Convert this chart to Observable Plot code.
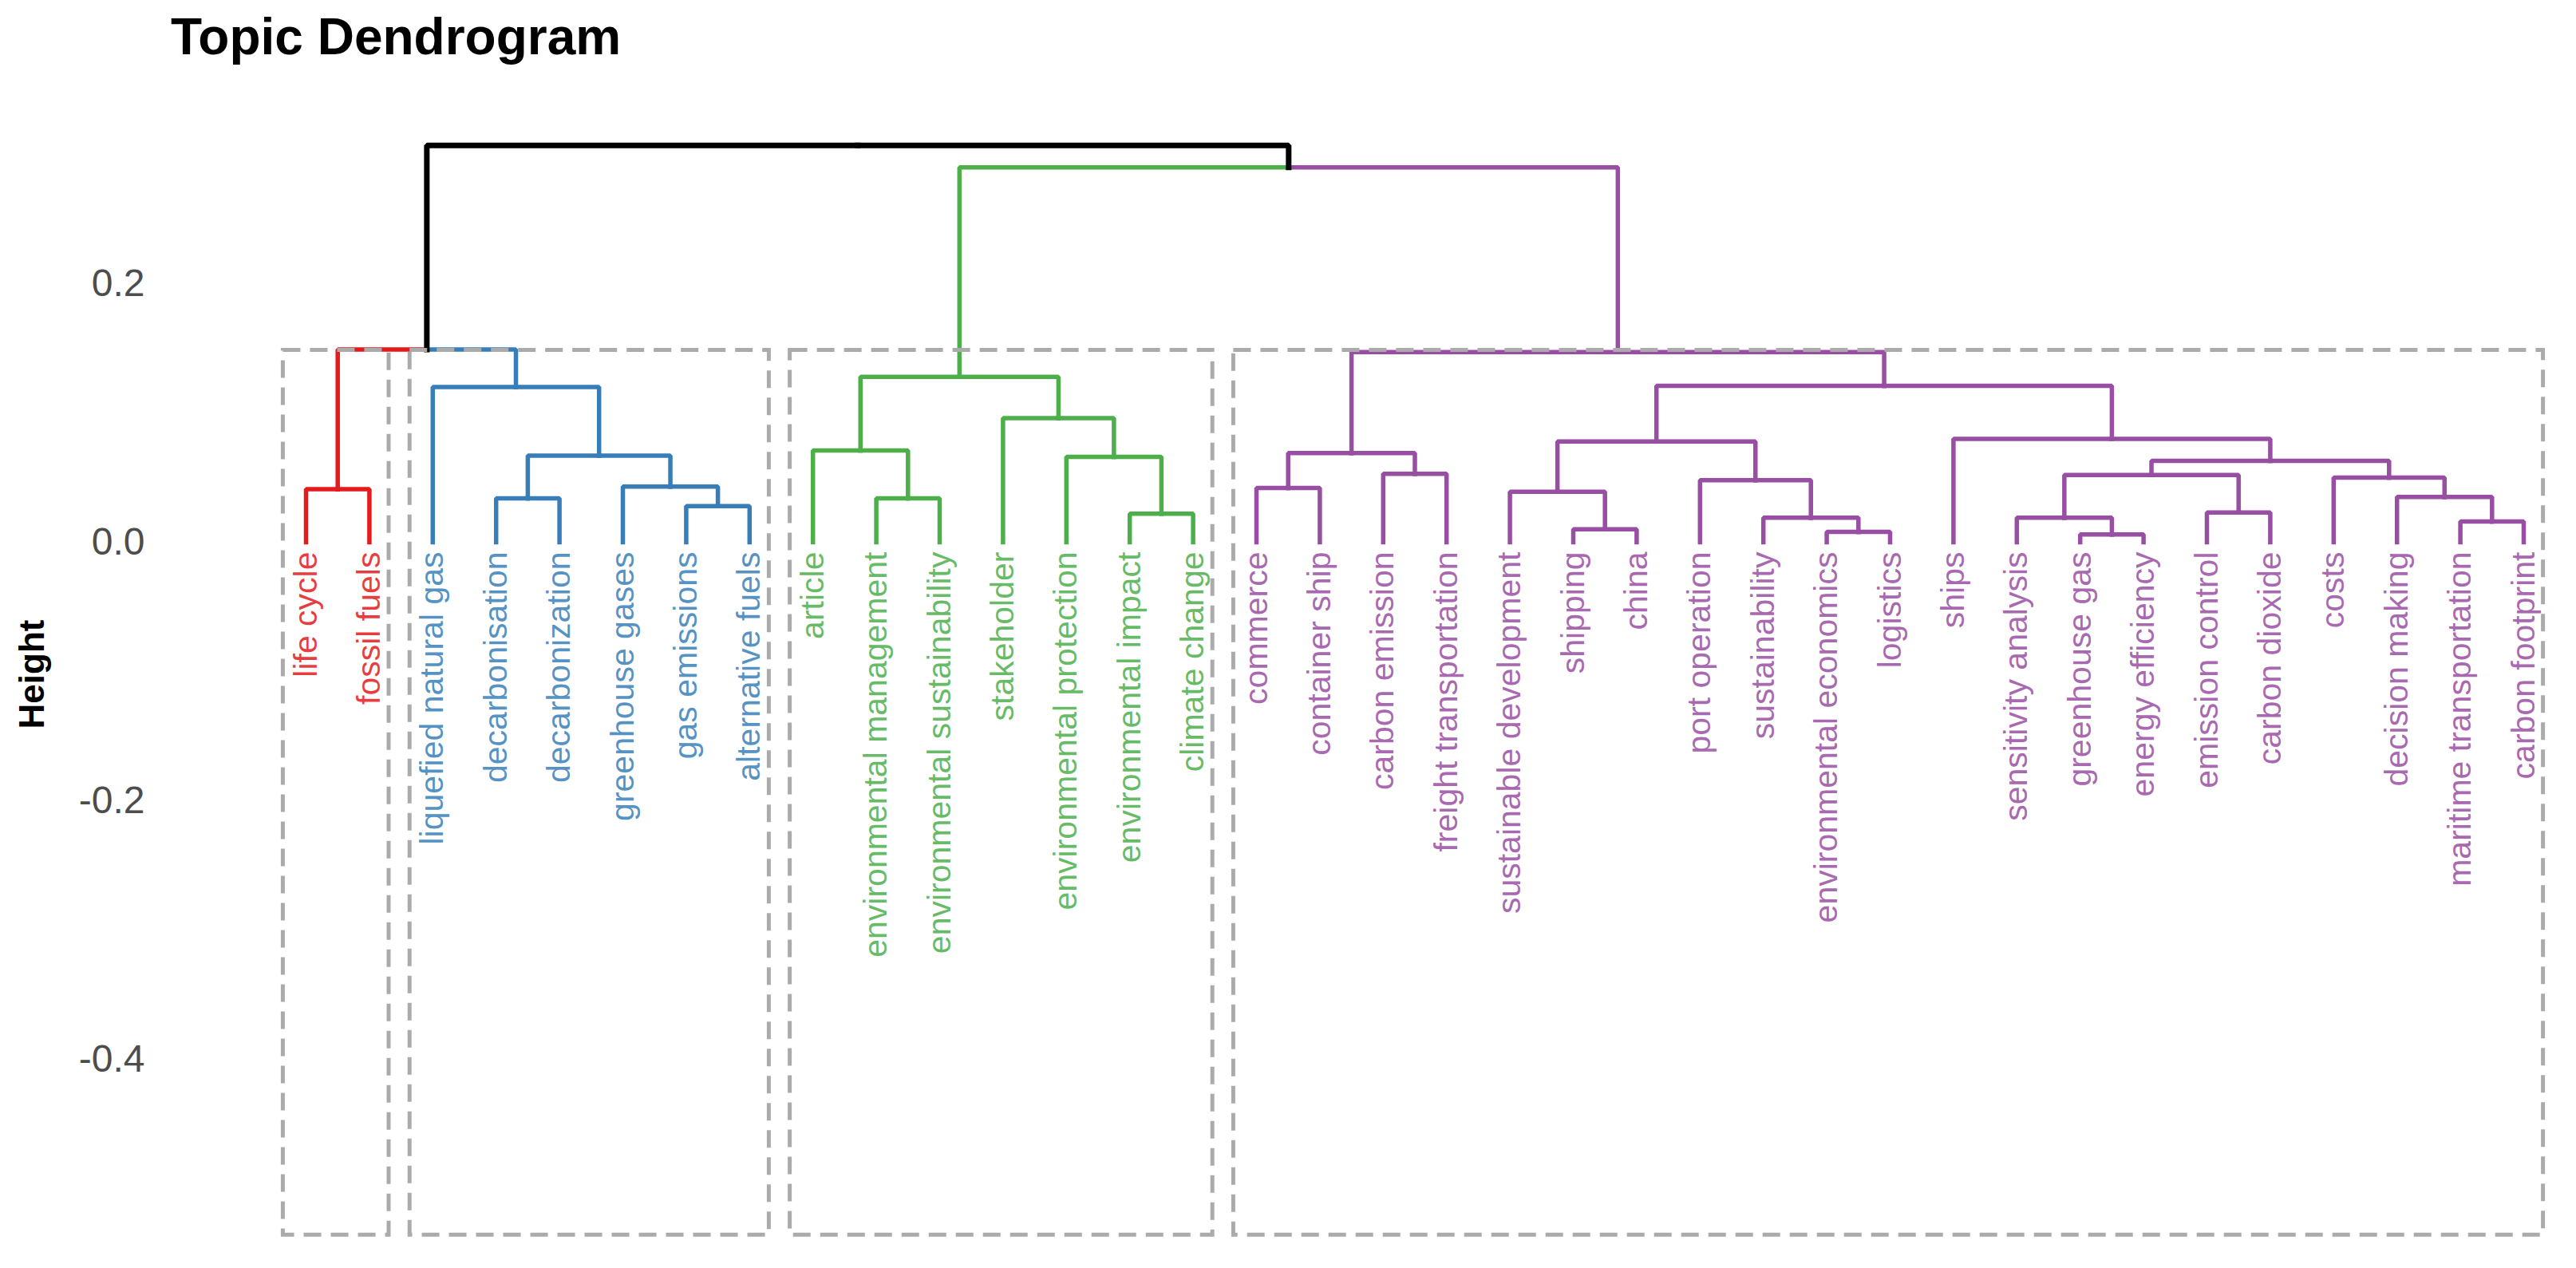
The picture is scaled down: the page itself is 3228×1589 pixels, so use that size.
<!DOCTYPE html>
<html>
<head>
<meta charset="utf-8">
<script src="https://cdn.jsdelivr.net/npm/d3@7"></script>
<script src="https://cdn.jsdelivr.net/npm/@observablehq/plot@0.6"></script>
<style>
  html, body { margin: 0; padding: 0; background: #ffffff; }
  #title {
    height: 100px; box-sizing: border-box;
    padding: 16px 0 0 214px;
    font: bold 64px/60px "Liberation Sans", Arial, sans-serif;
    color: #000;
  }
  #chart svg [aria-label="y-axis label"] { font-weight: bold; fill: #000; font-size: 44px; }
</style>
</head>
<body>
<div id="title">Topic Dendrogram</div>
<div id="chart"></div>
<script>
// ---- data ----
const leafLabels = [
  "life cycle", "fossil fuels",
  "liquefied natural gas", "decarbonisation", "decarbonization", "greenhouse gases", "gas emissions", "alternative fuels",
  "article", "environmental management", "environmental sustainability", "stakeholder", "environmental protection", "environmental impact", "climate change",
  "commerce", "container ship", "carbon emission", "freight transportation", "sustainable development", "shipping", "china",
  "port operation", "sustainability", "environmental economics", "logistics", "ships", "sensitivity analysis", "greenhouse gas",
  "energy efficiency", "emission control", "carbon dioxide", "costs", "decision making", "maritime transportation", "carbon footprint"
];
const clusterSizes = [2, 6, 7, 21];
const clusterColors = ["#E41A1C", "#377EB8", "#4DAF4A", "#984EA3"];
// hclust-style merges: negative = leaf (1-based), positive = earlier merge (1-based)
const mergeLeft  = [-1, -7, -6, -4, 4, -3, 1, -10, -9, -14, -13, -12, 9, -16, -18, 14, -21, -20, -25, -24, -23, 18, -29, -28, -31, 24, -35, -34, -33, 26, -27, 22, 16, 13, 7];
const mergeRight = [-2, -8, 2, -5, 3, 5, 6, -11, 8, -15, 10, 11, 12, -17, -19, 15, -22, 17, -26, 19, 20, 21, -30, 23, -32, 25, -36, 27, 28, 29, 30, 31, 32, 33, 34];
const mergeHeight = [0.041, 0.028, 0.043, 0.034, 0.067, 0.120, 0.149, 0.034, 0.071, 0.022, 0.066, 0.096, 0.128, 0.042, 0.053, 0.069, 0.010, 0.039, 0.008, 0.019, 0.048, 0.078, 0.006, 0.019, 0.023, 0.052, 0.016, 0.035, 0.050, 0.063, 0.080, 0.121, 0.147, 0.290, 0.307];
const cutHeight = 0.1485;
const rectBottom = -0.536;
const yTicks = [0.2, 0.0, -0.2, -0.4];

// ---- build tree geometry ----
const leafCluster = [];
clusterSizes.forEach((n, c) => { for (let i = 0; i < n; i++) leafCluster.push(c); });
const leaves = leafLabels.map((label, i) => ({label, x: i + 1, h: 0, color: clusterColors[leafCluster[i]]}));
const nodes = [];
const getNode = r => r < 0 ? leaves[-r - 1] : nodes[r - 1];
mergeLeft.forEach((l, i) => {
  const a = getNode(l), b = getNode(mergeRight[i]);
  nodes.push({x: (a.x + b.x) / 2, h: mergeHeight[i], color: a.color === b.color ? a.color : "#000000", kids: [a, b]});
});
const paths = [];
let pid = 0;
nodes.forEach(n => n.kids.forEach(k => {
  pid++;
  const w = k.color === "#000000" ? 7 : 5.5;
  paths.push({id: pid, x: n.x, h: n.h, color: k.color, w});
  paths.push({id: pid, x: k.x, h: n.h, color: k.color, w});
  paths.push({id: pid, x: k.x, h: k.h, color: k.color, w});
}));
const boxes = [];
let start = 1;
clusterSizes.forEach((n, c) => { boxes.push({a: start, b: start + n - 1}); start += n; });

const chart = Plot.plot({
  width: 3228,
  height: 1489,
  marginLeft: 185, marginRight: 0, marginTop: 0, marginBottom: 0,
  style: {fontFamily: "'Liberation Sans', Arial, sans-serif", background: "#ffffff"},
  x: {domain: [1, 36], range: [383, 3162], axis: null},
  y: {domain: [-0.514, 0.33], range: [1411.7, 44.4]},
  marks: [
    Plot.axisY({
      ticks: yTicks, tickFormat: d => d.toFixed(1), tickSize: 0, tickPadding: 4,
      fontSize: 48, color: "#4d4d4d",
      label: "Height", labelAnchor: "center", labelArrow: "none", labelOffset: 162
    }),
    Plot.line(paths.filter(p => p.w < 6), {x: "x", y: "h", z: "id", stroke: "color", strokeWidth: 5.5, strokeLinejoin: "miter", strokeLinecap: "square"}),
    Plot.line(paths.filter(p => p.w >= 6), {x: "x", y: "h", z: "id", stroke: "color", strokeWidth: 7, strokeLinejoin: "miter", strokeLinecap: "square"}),
    Plot.text(leaves, {x: "x", y: "h", text: "label", rotate: -90, textAnchor: "end", dy: 12, fill: "color", fillOpacity: 0.85, fontSize: 41}),
    Plot.rect(boxes, {x1: d => d.a - 0.36, x2: d => d.b + 0.31, y1: rectBottom, y2: cutHeight,
      fill: "none", stroke: "#ababab", strokeWidth: 5, strokeDasharray: "22,12"})
  ]
});
document.getElementById("chart").appendChild(chart);
</script>
</body>
</html>
